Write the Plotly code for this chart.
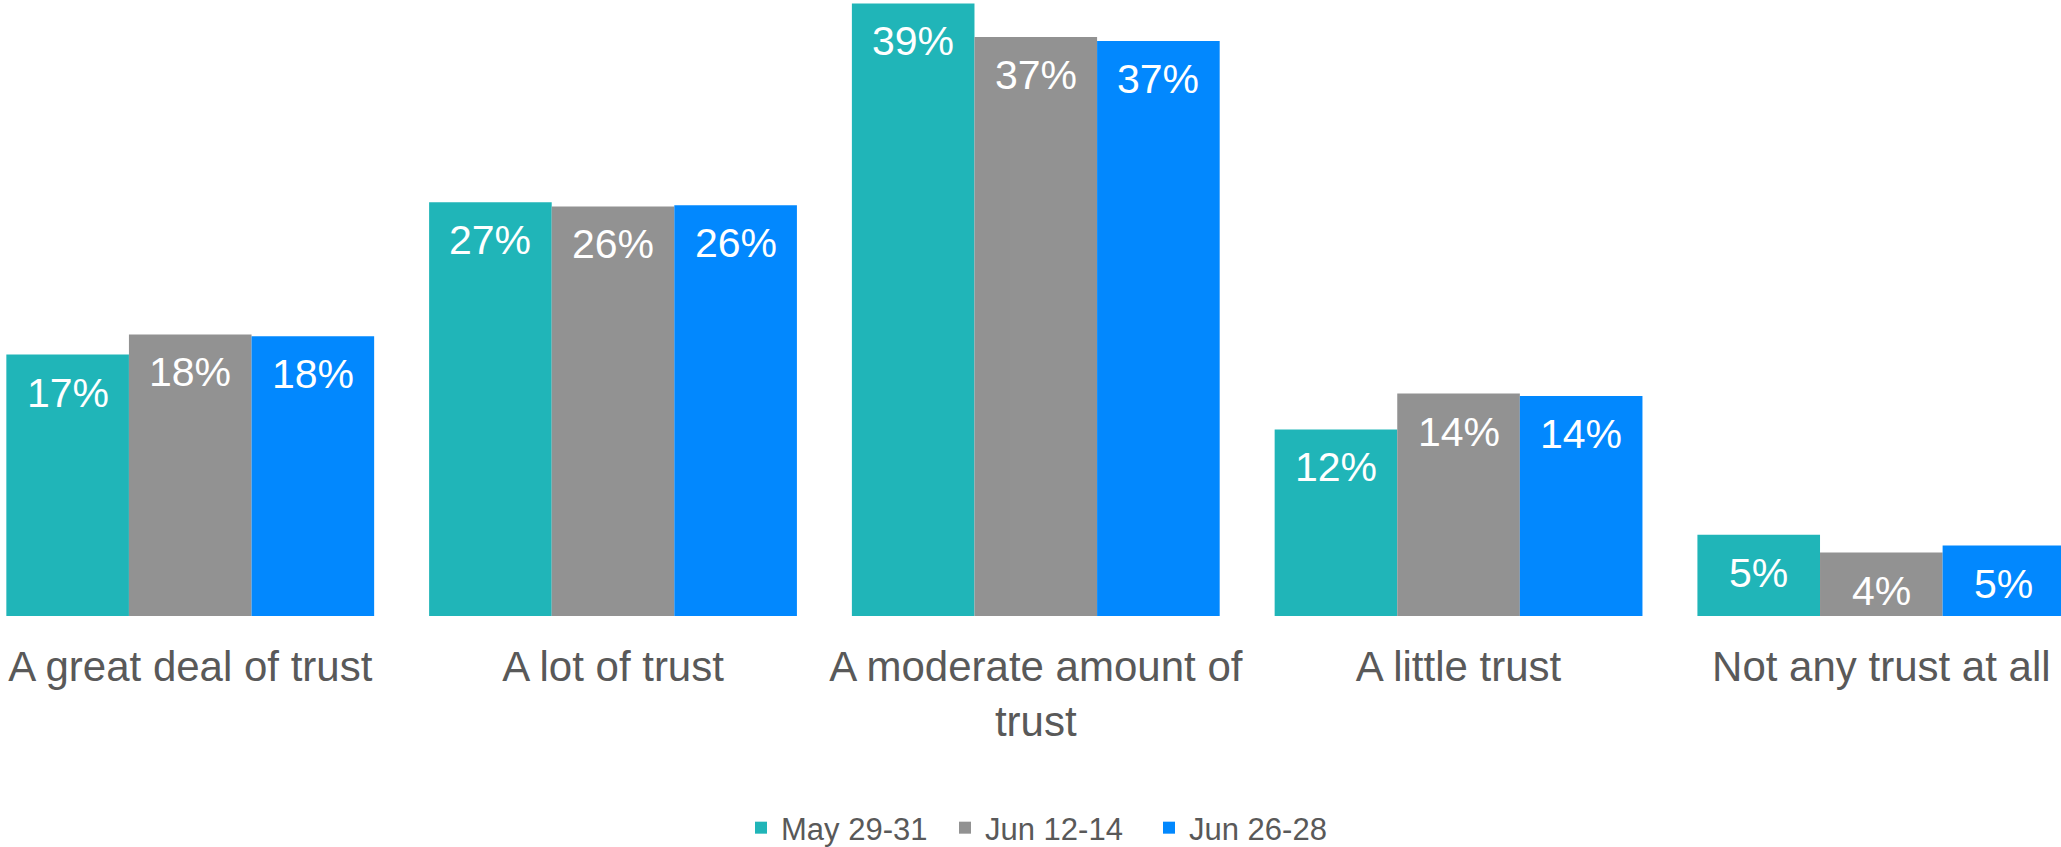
import plotly.graph_objects as go

categories = ["A great deal of trust", "A lot of trust", "A moderate amount of<br>trust",
              "A little trust", "Not any trust at all"]
series_names = ["May 29-31", "Jun 12-14", "Jun 26-28"]
may_29_31 = [16.81, 26.60, 39.38, 11.99, 5.23]
jun_12_14 = [18.10, 26.33, 37.22, 14.30, 4.08]
jun_26_28 = [17.99, 26.41, 36.96, 14.15, 4.53]
labels_may = ["17%", "27%", "39%", "12%", "5%"]
labels_jun12 = ["18%", "26%", "37%", "14%", "4%"]
labels_jun26 = ["18%", "26%", "37%", "14%", "5%"]

colors = ["#20B5B8", "#929292", "#0288FE"]
FONT = "Liberation Sans, Arial, sans-serif"
TEXT_COLOR = "#595959"
BARGAP = 0.13

series = [may_29_31, jun_12_14, jun_26_28]
labels = [labels_may, labels_jun12, labels_jun26]

fig = go.Figure()
for name, vals, col in zip(series_names, series, colors):
    fig.add_trace(go.Bar(
        x=list(range(len(categories))), y=vals, name=name,
        marker=dict(color=col, line=dict(width=0)),
        hoverinfo="skip",
    ))

# value labels inside bars, positioned through the axis scales
n = len(series)
w = (1 - BARGAP) / n
for j, (vals, labs) in enumerate(zip(series, labels)):
    for i, (v, t) in enumerate(zip(vals, labs)):
        fig.add_annotation(
            x=i + (j - (n - 1) / 2) * w, y=v, xref="x", yref="y",
            text=t, showarrow=False, yanchor="top", xanchor="center",
            yshift=-13,
            font=dict(family=FONT, size=41, color="white"),
        )

fig.update_layout(
    width=2061, height=847,
    margin=dict(l=0, r=0, t=0, b=231, autoexpand=False),
    paper_bgcolor="white", plot_bgcolor="white",
    barmode="group", bargap=BARGAP, bargroupgap=0,
    font=dict(family=FONT, color=TEXT_COLOR),
    legend=dict(
        orientation="h", x=0.508, xanchor="center",
        yref="container", y=0.0224, yanchor="middle",
        font=dict(family=FONT, size=31, color=TEXT_COLOR),
        itemwidth=30, entrywidth=159, traceorder="normal",
    ),
    showlegend=True,
)
fig.update_xaxes(
    range=[-0.45, 4.425], automargin=False,
    tickmode="array", tickvals=list(range(len(categories))), ticktext=categories,
    tickfont=dict(family=FONT, size=42, color=TEXT_COLOR),
    ticklabelstandoff=22,
    showgrid=False, zeroline=False, showline=False, ticks="",
)
fig.update_yaxes(
    range=[0, 39.6], visible=False, showgrid=False, zeroline=False, automargin=False,
)

fig.write_html(
    "out.html",
    config={"displayModeBar": False},
    post_script="document.body.style.margin='0';document.body.style.padding='0';",
)
